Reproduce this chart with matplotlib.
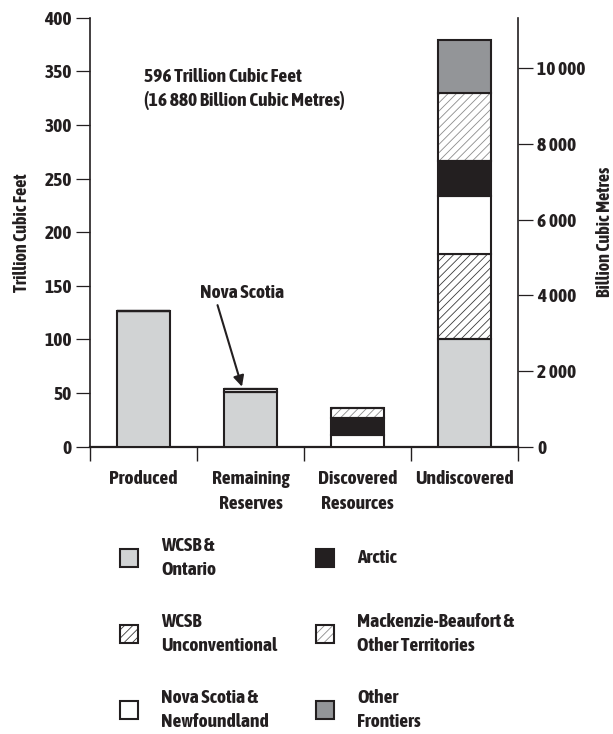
import numpy as np
import matplotlib
matplotlib.use('Agg')
import matplotlib.pyplot as plt
import matplotlib.patheffects as pe
from matplotlib import font_manager
from matplotlib.font_manager import FontProperties
from matplotlib.patches import Rectangle
from matplotlib.text import Text

# pick a narrow face if one is around; fake the bold if it has no bold file
names = sorted({f.name for f in font_manager.fontManager.ttflist})
narrow = [n for n in names if 'Narrow' in n or 'Condensed' in n]
fake_bold = True
for n in narrow:
    path = font_manager.findfont(FontProperties(family=n, weight='bold'), fallback_to_default=False)
    if 'bold' in path.lower() and '[' not in path:
        narrow = [n]
        fake_bold = False
        break
plt.rcParams['font.family'] = narrow + ['Roboto', 'DejaVu Sans']
plt.rcParams['font.weight'] = 'bold'
plt.rcParams['hatch.linewidth'] = 0.6

# data (trillion cubic feet)
categories = ['Produced', 'Remaining\nReserves', 'Discovered\nResources', 'Undiscovered']
wcsb_ontario = [127, 51, 0, 100]
wcsb_unconv = [0, 0, 0, 80]
ns_nfld = [0, 3, 11, 54]
arctic = [0, 0, 15.5, 32]
mackenzie = [0, 0, 9.5, 64]
other_frontiers = [0, 0, 0, 49]
tcf_to_bcm = 28.3168

ink = '#231f20'
series = [
    ('WCSB &\nOntario', wcsb_ontario, '#d1d3d4', None, None),
    ('WCSB\nUnconventional', wcsb_unconv, 'white', '////', '#3a3a3a'),
    ('Nova Scotia &\nNewfoundland', ns_nfld, 'white', None, None),
    ('Arctic', arctic, ink, None, None),
    ('Mackenzie-Beaufort &\nOther Territories', mackenzie, 'white', '////', '#8c8c8c'),
    ('Other\nFrontiers', other_frontiers, '#939598', None, None),
]
fs = 14

fig = plt.figure(figsize=(6.13, 7.34), dpi=100)
ax = fig.add_axes([90 / 613, 1 - 446.7 / 734, 428 / 613, 428.9 / 734])

x = np.arange(len(categories))
bottom = np.zeros(len(categories))
for name, vals, fc, hatch, hc in series:
    vals = np.array(vals, dtype=float)
    if hatch:
        ax.bar(x, vals, 0.5, bottom=bottom, color=fc, edgecolor=hc,
               hatch=hatch, linewidth=0, zorder=2)
        ax.bar(x, vals, 0.5, bottom=bottom, fill=False, edgecolor=ink,
               linewidth=1.5, zorder=3)
    else:
        ax.bar(x, vals, 0.5, bottom=bottom, color=fc, edgecolor=ink,
               linewidth=1.5, zorder=3)
    bottom += vals

ax.set_xlim(-0.5, 3.5)
ax.set_ylim(0, 400)
ax.set_yticks(range(0, 401, 50))
ax.set_xticks(x)
ax.set_xticklabels(categories, fontsize=fs)
for lbl in ax.get_xticklabels():
    lbl.set_linespacing(1.45)
ax.set_xticks(np.arange(-0.5, 3.6, 1), minor=True)
ax.tick_params(axis='x', which='major', length=0, pad=17)
ax.tick_params(axis='x', which='minor', length=10, width=1, color=ink)
ax.tick_params(axis='y', length=10, width=0.9, color=ink, pad=3, labelsize=fs)
ax.spines['top'].set_visible(False)
ax.spines['right'].set_visible(False)
ax.spines['left'].set_linewidth(1.2)
ax.spines['bottom'].set_linewidth(1.6)
for s in ax.spines.values():
    s.set_color(ink)
ax.set_ylabel('Trillion Cubic Feet', fontsize=13, fontweight='bold', labelpad=10)

ax2 = ax.twinx()
ax2.set_ylim(0, 400 * tcf_to_bcm)
ax2.set_yticks(range(0, 10001, 2000))
ax2.set_yticklabels([f'{v:,}'.replace(',', ' ') for v in range(0, 10001, 2000)])
ax2.tick_params(axis='y', length=11, width=0.9, color=ink, pad=3, labelsize=fs)
for k in ['top', 'left', 'bottom']:
    ax2.spines[k].set_visible(False)
ax2.spines['right'].set_linewidth(1.2)
ax2.spines['right'].set_color(ink)
ax2.set_ylabel('Billion Cubic Metres', fontsize=13, fontweight='bold', labelpad=7)

ax.text(0.0, 345, '596 Trillion Cubic Feet', fontsize=fs, va='center', ha='left')
ax.text(0.0, 323, '(16 880 Billion Cubic Metres)', fontsize=fs, va='center', ha='left')

ax.annotate('Nova Scotia', xy=(0.92, 56), xytext=(0.92, 143),
            fontsize=fs, ha='center', va='center',
            arrowprops=dict(arrowstyle='-|>', color=ink, lw=1.5,
                            mutation_scale=16, shrinkA=0, shrinkB=0,
                            relpos=(0.2, 0.0)),
            zorder=5)

# legend drawn in pixel coordinates
lg = fig.add_axes([0, 0, 1, 1], facecolor='none')
lg.set_xlim(0, 613)
lg.set_ylim(734, 0)
lg.axis('off')
rows = [558, 634, 710]
cols = [(120, 161), (316, 357)]
for i, (name, vals, fc, hatch, hc) in enumerate(series):
    sx, tx = cols[i // 3]
    sy = rows[i % 3]
    if hatch:
        lg.add_patch(Rectangle((sx, sy - 9), 18, 18, facecolor=fc, edgecolor=hc,
                               hatch=hatch, linewidth=0))
        lg.add_patch(Rectangle((sx, sy - 9), 18, 18, fill=False, edgecolor=ink,
                               linewidth=1.5))
    else:
        lg.add_patch(Rectangle((sx, sy - 9), 18, 18, facecolor=fc, edgecolor=ink,
                               linewidth=1.5))
    lg.text(tx, sy, name, fontsize=fs, va='center', ha='left', linespacing=1.45)

for t in fig.findobj(Text):
    t.set_color(ink)
    if fake_bold:
        t.set_path_effects([pe.withStroke(linewidth=0.9, foreground=ink)])

fig.savefig('out.png', dpi=100)
